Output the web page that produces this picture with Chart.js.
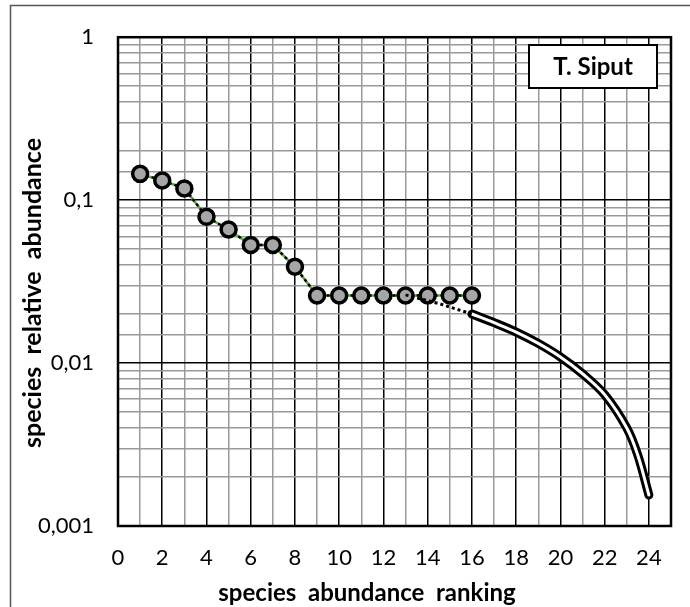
<!DOCTYPE html>
<html>
<head>
<meta charset="utf-8">
<script src="https://cdn.jsdelivr.net/npm/chart.js@4/dist/chart.umd.min.js"></script>
<style>
  html, body { margin: 0; padding: 0; background: #fff; }
  #wrap { width: 690px; height: 607px; }
</style>
</head>
<body>
<div id="wrap"><canvas id="chart" width="690" height="607"></canvas></div>
<script>
// observed ranks and relative abundances
const ranks = [1, 2, 3, 4, 5, 6, 7, 8, 9, 10, 11, 12, 13, 14, 15, 16];
const abundance = [0.145, 0.132, 0.118, 0.079, 0.066, 0.053, 0.053, 0.039,
                   0.026, 0.026, 0.026, 0.026, 0.026, 0.026, 0.026, 0.026];

// dotted extension towards the fitted curve
const extRanks = [13, 14.5, 16];
const extValues = [0.0262, 0.0232, 0.0200];

// fitted tail curve
const fitRanks = [16, 17, 18, 19, 20, 21, 22, 23, 23.5, 24];
const fitValues = [0.0200, 0.0177, 0.0155, 0.0132, 0.0109, 0.0086, 0.0064, 0.0040, 0.00272, 0.00155];

const yTicks = [1, 0.1, 0.01, 0.001];
const xTitle = "species  abundance  ranking";
const yTitle = "species  relative  abundance";
const boxLabel = "T. Siput";

const FONT = "Lato, 'Open Sans', sans-serif";

function pts(xs, ys) {
  return xs.map((x, i) => ({ x: x, y: ys[i] }));
}

function isDecade(v) {
  const l = Math.log10(v);
  return Math.abs(l - Math.round(l)) < 1e-9;
}

const extras = {
  id: "extras",
  beforeDraw(chart) {
    const ctx = chart.ctx;
    ctx.save();
    ctx.strokeStyle = "#555";
    ctx.lineWidth = 1.5;
    ctx.strokeRect(10.5, 5.5, 800, 800);
    ctx.restore();
  },
  afterDraw(chart) {
    const ctx = chart.ctx;
    const a = chart.chartArea;
    ctx.save();
    // plot frame
    ctx.strokeStyle = "#000";
    ctx.lineWidth = 2.5;
    ctx.strokeRect(a.left, a.top, a.right - a.left, a.bottom - a.top);

    // axis titles
    ctx.fillStyle = "#000";
    ctx.font = "bold 24px " + FONT;
    ctx.textAlign = "center";
    ctx.textBaseline = "middle";
    ctx.fillText(xTitle, 367, 593);
    ctx.translate(33, 293);
    ctx.rotate(-Math.PI / 2);
    ctx.font = "bold 25px " + FONT;
    ctx.fillText(yTitle, 0, 0);
    ctx.restore();

    // label box
    ctx.save();
    ctx.fillStyle = "#fff";
    ctx.strokeStyle = "#000";
    ctx.lineWidth = 2;
    ctx.fillRect(529, 45, 128, 43);
    ctx.strokeRect(529, 45, 128, 43);
    ctx.fillStyle = "#000";
    ctx.font = "bold 24px " + FONT;
    ctx.textAlign = "center";
    ctx.textBaseline = "middle";
    ctx.fillText(boxLabel, 593, 67);
    ctx.restore();
  }
};

new Chart(document.getElementById("chart"), {
  type: "scatter",
  data: {
    datasets: [
      {
        label: "extension",
        data: pts(extRanks, extValues),
        showLine: true,
        borderColor: "#000",
        borderWidth: 3,
        borderDash: [3, 3],
        pointRadius: 0,
        order: 0
      },
      {
        label: "observed",
        data: pts(ranks, abundance),
        showLine: false,
        pointRadius: 7.5,
        pointBorderWidth: 3.5,
        pointBackgroundColor: "#a6a6a6",
        pointBorderColor: "#000",
        order: 1
      },
      {
        label: "observed dash",
        data: pts(ranks, abundance),
        showLine: true,
        borderColor: "#000",
        borderWidth: 2.5,
        borderDash: [3, 3],
        pointRadius: 0,
        order: 2
      },
      {
        label: "observed line",
        data: pts(ranks, abundance),
        showLine: true,
        borderColor: "#5ea83a",
        borderWidth: 2.5,
        pointRadius: 0,
        order: 3
      },
      {
        label: "fit inner",
        data: pts(fitRanks, fitValues),
        showLine: true,
        borderColor: "#fff",
        borderWidth: 3,
        borderCapStyle: "round",
        tension: 0.35,
        pointRadius: 0,
        order: 4
      },
      {
        label: "fit outer",
        data: pts(fitRanks, fitValues),
        showLine: true,
        borderColor: "#000",
        borderWidth: 9,
        borderCapStyle: "round",
        tension: 0.35,
        pointRadius: 0,
        order: 5
      }
    ]
  },
  options: {
    responsive: false,
    animation: false,
    layout: { padding: { top: 35, right: 18, left: 0, bottom: 0 } },
    plugins: {
      legend: { display: false },
      tooltip: { enabled: false }
    },
    scales: {
      x: {
        type: "linear",
        min: 0,
        max: 25,
        afterFit(scale) { scale.height = 81; },
        border: { display: false },
        grid: {
          drawTicks: false,
          lineWidth: 1.5,
          color: (c) => (c.tick && (c.tick.value % 2 === 0 || c.tick.value === 25)) ? "#000" : "#9a9a9a"
        },
        ticks: {
          stepSize: 1,
          autoSkip: false,
          maxRotation: 0,
          padding: 19,
          color: "#000",
          font: { family: FONT, size: 22 },
          callback: (v) => (v % 2 === 0 ? String(v) : "")
        }
      },
      y: {
        type: "logarithmic",
        min: 0.001,
        max: 1,
        afterFit(scale) { scale.width = 118; },
        border: { display: false },
        grid: {
          drawTicks: false,
          lineWidth: 1.5,
          color: (c) => (c.tick && isDecade(c.tick.value)) ? "#000" : "#9a9a9a"
        },
        ticks: {
          autoSkip: false,
          padding: 24,
          color: "#000",
          font: { family: FONT, size: 22 },
          callback: (v) => (yTicks.some((t) => Math.abs(t - v) < 1e-12) ? String(v).replace(".", ",") : "")
        }
      }
    }
  },
  plugins: [extras]
});
</script>
</body>
</html>
